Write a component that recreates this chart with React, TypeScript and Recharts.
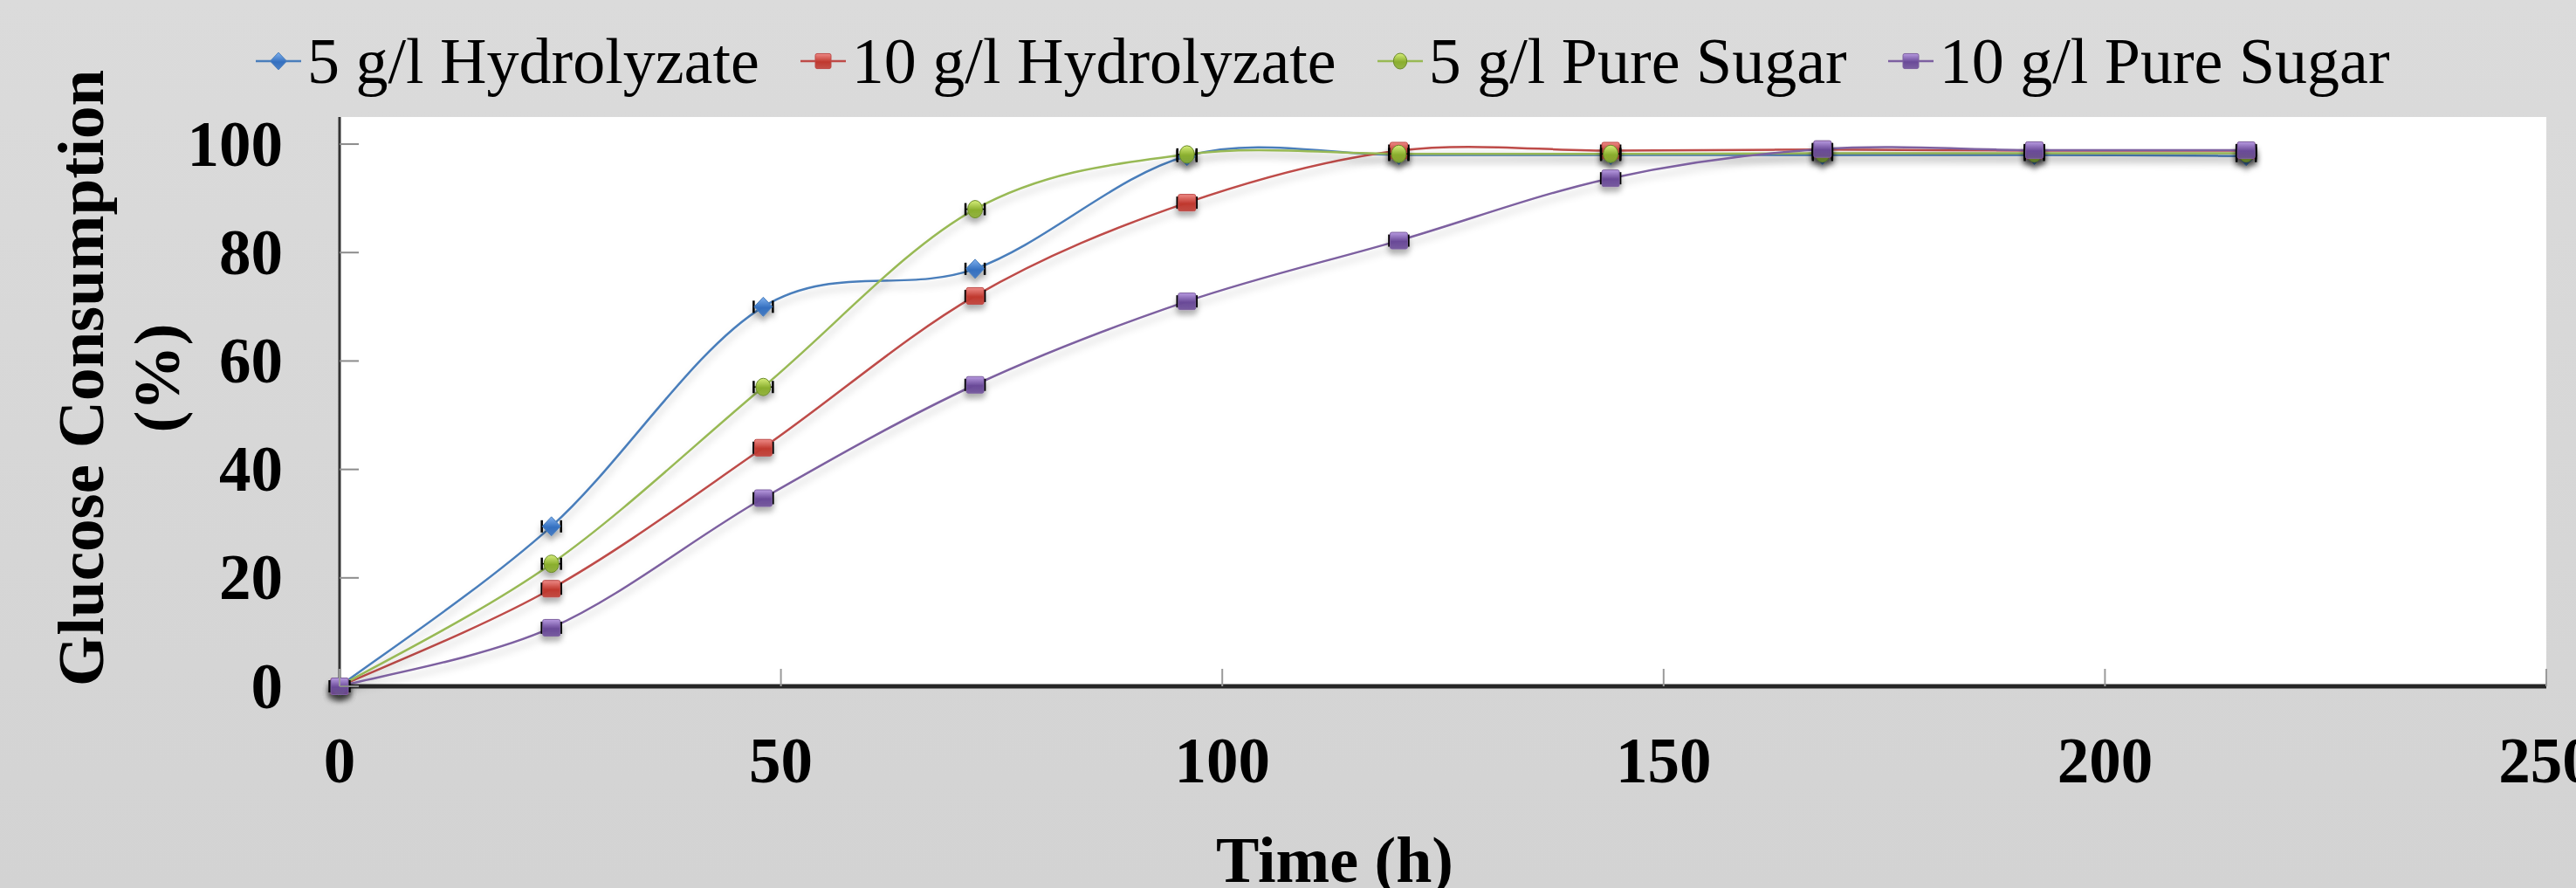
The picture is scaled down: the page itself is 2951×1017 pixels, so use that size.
import { LineChart, Line, XAxis, YAxis, CartesianGrid, Legend } from 'recharts'

const hours = [0, 24, 48, 72, 96, 120, 144, 168, 192, 216]
const hydro5 = [0, 29.5, 70, 77, 97.8, 98, 98, 98, 98, 97.8]
const hydro10 = [0, 18, 44, 72, 89.2, 98.8, 98.8, 99, 98.8, 98.8]
const pure5 = [0, 22.6, 55.2, 88, 98.1, 98.2, 98.2, 98.3, 98.3, 98.3]
const pure10 = [0, 10.8, 34.7, 55.6, 71, 82.2, 93.7, 99.1, 98.9, 98.9]
const xTicks = [0, 50, 100, 150, 200, 250]
const yTicks = [0, 20, 40, 60, 80, 100]

const series = [
  { key: 'h5', name: '5 g/l Hydrolyzate', values: hydro5, color: '#4a7ebb', shape: 'diamond', grad: 'gBlue' },
  { key: 'h10', name: '10 g/l Hydrolyzate', values: hydro10, color: '#be4b48', shape: 'square', grad: 'gRed' },
  { key: 'p5', name: '5 g/l Pure Sugar', values: pure5, color: '#98b954', shape: 'ellipse', grad: 'gGreen' },
  { key: 'p10', name: '10 g/l Pure Sugar', values: pure10, color: '#7d60a0', shape: 'square', grad: 'gPurple' },
]

const data = hours.map((t, i) => {
  const row: any = { t }
  series.forEach((s) => (row[s.key] = s.values[i]))
  return row
})

const serif = "'Liberation Serif', 'Times New Roman', serif"

// Excel-like smoothed line (Catmull-Rom as cubic beziers)
function excelSmooth(context: any) {
  let pts: number[][] = []
  return {
    areaStart() {},
    areaEnd() {},
    lineStart() {
      pts = []
    },
    lineEnd() {
      if (!pts.length) return
      context.moveTo(pts[0][0], pts[0][1])
      for (let i = 0; i < pts.length - 1; i++) {
        const p0 = pts[i - 1] || pts[i]
        const p1 = pts[i]
        const p2 = pts[i + 1]
        const p3 = pts[i + 2] || p2
        context.bezierCurveTo(
          p1[0] + (p2[0] - p0[0]) / 6,
          p1[1] + (p2[1] - p0[1]) / 6,
          p2[0] - (p3[0] - p1[0]) / 6,
          p2[1] - (p3[1] - p1[1]) / 6,
          p2[0],
          p2[1]
        )
      }
    },
    point(x: number, y: number) {
      pts.push([+x, +y])
    },
  }
}

function MarkerShape({ cx, cy, shape, grad, color, scale = 1 }: any) {
  const s = scale
  if (shape === 'diamond')
    return (
      <polygon
        points={`${cx},${cy - 11 * s} ${cx + 10.5 * s},${cy} ${cx},${cy + 11 * s} ${cx - 10.5 * s},${cy}`}
        fill={`url(#${grad})`}
        stroke={color}
        strokeWidth={1}
      />
    )
  if (shape === 'ellipse')
    return <ellipse cx={cx} cy={cy} rx={8.5 * s} ry={10 * s} fill={`url(#${grad})`} stroke="#6b8a2a" strokeWidth={1} />
  return (
    <rect
      x={cx - 10 * s}
      y={cy - 9.5 * s}
      width={20 * s}
      height={19 * s}
      rx={2}
      fill={`url(#${grad})`}
      stroke={color}
      strokeWidth={1}
    />
  )
}

function makeDot(s: any) {
  return (props: any) => {
    const { cx, cy, index } = props
    return (
      <g key={`${s.key}-${index}`} filter="url(#dotShadow)">
        <line x1={cx - 11} x2={cx + 11} y1={cy} y2={cy} stroke="#000" strokeWidth={1.5} />
        <line x1={cx - 11} x2={cx - 11} y1={cy - 7} y2={cy + 7} stroke="#000" strokeWidth={2.5} />
        <line x1={cx + 11} x2={cx + 11} y1={cy - 7} y2={cy + 7} stroke="#000" strokeWidth={2.5} />
        <MarkerShape cx={cx} cy={cy} shape={s.shape} grad={s.grad} color={s.color} />
      </g>
    )
  }
}

function XTick({ x, y, payload }: any) {
  return (
    <g>
      <line x1={x} x2={x} y1={y} y2={y - 20} stroke="#9a9a9a" strokeWidth={2} />
      <text
        x={x}
        y={y + 85}
        textAnchor="middle"
        dominantBaseline="central"
        fontFamily={serif}
        fontWeight="bold"
        fontSize={73}
        fill="#000"
      >
        {payload.value}
      </text>
    </g>
  )
}

function YTick({ x, y, payload }: any) {
  return (
    <g>
      <line x1={x} x2={x + 22} y1={y} y2={y} stroke="#8c8c8c" strokeWidth={2} />
      <text
        x={x - 65}
        y={y}
        textAnchor="end"
        dominantBaseline="central"
        fontFamily={serif}
        fontWeight="bold"
        fontSize={73}
        fill="#000"
      >
        {payload.value}
      </text>
    </g>
  )
}

function YLabel() {
  return (
    <g fontFamily={serif} fontWeight="bold" fontSize={75} fill="#000">
      <text transform="translate(118, 433) rotate(-90)" textAnchor="middle">
        Glucose Consumption
      </text>
      <text transform="translate(205, 433) rotate(-90)" textAnchor="middle">
        (%)
      </text>
    </g>
  )
}

function XLabel() {
  return (
    <text x={1529} y={1010} textAnchor="middle" fontFamily={serif} fontWeight="bold" fontSize={74} fill="#000">
      Time (h)
    </text>
  )
}

function ChartLegend() {
  return (
    <div
      style={{
        display: 'flex',
        alignItems: 'center',
        height: 74,
        paddingLeft: 293,
        fontFamily: serif,
        fontSize: 74,
        lineHeight: '74px',
        color: '#000',
        whiteSpace: 'nowrap',
      }}
    >
      {series.map((s) => (
        <div key={s.key} style={{ display: 'flex', alignItems: 'center', marginRight: 47 }}>
          <svg width={52} height={30} style={{ display: 'block' }}>
            <line x1={0} x2={52} y1={15} y2={15} stroke={s.color} strokeWidth={2.5} />
            <MarkerShape cx={26} cy={15} shape={s.shape} grad={s.grad} color={s.color} scale={0.9} />
          </svg>
          <span style={{ marginLeft: 7 }}>{s.name}</span>
        </div>
      ))}
    </div>
  )
}

function Gradient({ id, light, dark }: any) {
  return (
    <linearGradient id={id} x1="0" y1="0" x2="0" y2="1">
      <stop offset="0%" stopColor={light} />
      <stop offset="55%" stopColor={dark} />
      <stop offset="100%" stopColor={dark} stopOpacity={0.85} />
    </linearGradient>
  )
}

export default function App() {
  return (
    <div
      style={{
        position: 'absolute',
        left: 0,
        top: 0,
        width: 2951,
        height: 1017,
        background: 'linear-gradient(#dbdbdb, #d3d3d3)',
        overflow: 'hidden',
      }}
    >
      <svg width={0} height={0} style={{ position: 'absolute' }}>
        <defs>
          <Gradient id="gBlue" light="#7fb0ee" dark="#3470c0" />
          <Gradient id="gRed" light="#ee8a86" dark="#c0392f" />
          <Gradient id="gGreen" light="#d6ee7a" dark="#8aae2e" />
          <Gradient id="gPurple" light="#b79ae0" dark="#6a4a98" />
          <filter id="lineShadow" filterUnits="userSpaceOnUse" x={0} y={0} width={2951} height={1017}>
            <feDropShadow dx={0} dy={7} stdDeviation={4} floodColor="#000" floodOpacity={0.22} />
          </filter>
          <filter id="dotShadow" x="-50%" y="-50%" width="200%" height="220%">
            <feDropShadow dx={0} dy={6} stdDeviation={3} floodColor="#000" floodOpacity={0.3} />
          </filter>
        </defs>
      </svg>
      <LineChart
        width={2951}
        height={1017}
        data={data}
        margin={{ top: 134, right: 34, bottom: 101, left: 89 }}
      >
        <CartesianGrid fill="#ffffff" horizontal={false} vertical={false} />
        <XAxis
          xAxisId="top"
          orientation="top"
          dataKey="t"
          type="number"
          domain={[0, 250]}
          height={0}
          tick={false}
          tickLine={false}
          axisLine={{ stroke: '#000', strokeWidth: 6 }}
        />
        <YAxis
          yAxisId="right"
          orientation="right"
          type="number"
          domain={[0, 105]}
          width={0}
          tick={false}
          tickLine={false}
          axisLine={{ stroke: '#000', strokeWidth: 2 }}
        />
        <XAxis
          dataKey="t"
          type="number"
          domain={[0, 250]}
          ticks={xTicks}
          height={130}
          tickSize={0}
          tickMargin={0}
          tickLine={false}
          tick={<XTick />}
          axisLine={{ stroke: '#262626', strokeWidth: 5 }}
          label={{ content: () => <XLabel /> }}
        />
        <YAxis
          type="number"
          domain={[0, 105]}
          ticks={yTicks}
          width={300}
          tickSize={0}
          tickMargin={0}
          tickLine={false}
          tick={<YTick />}
          axisLine={{ stroke: '#333', strokeWidth: 3 }}
          label={{ content: () => <YLabel /> }}
        />
        <Legend
          verticalAlign="middle"
          align="center"
          layout="horizontal"
          wrapperStyle={{ top: 33, left: 0, width: 2951, height: 74 }}
          content={() => <ChartLegend />}
        />
        {series.map((s) => (
          <Line
            key={s.key}
            dataKey={s.key}
            name={s.name}
            type={excelSmooth as any}
            stroke={s.color}
            strokeWidth={2.5}
            style={{ filter: 'url(#lineShadow)' }}
            dot={makeDot(s)}
            activeDot={false}
            isAnimationActive={false}
          />
        ))}
      </LineChart>
    </div>
  )
}
